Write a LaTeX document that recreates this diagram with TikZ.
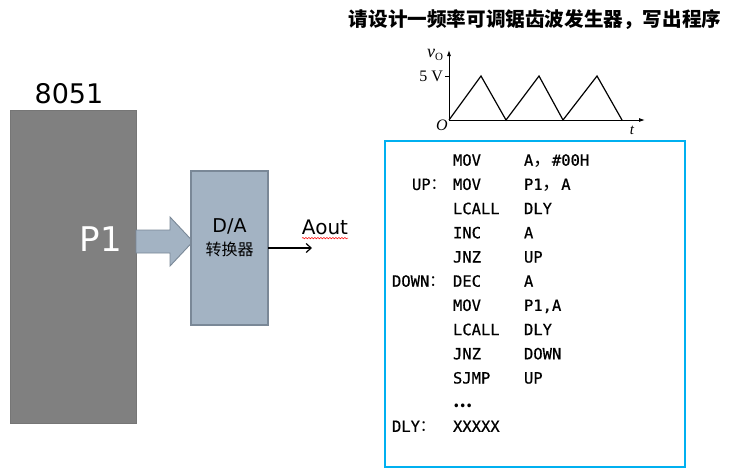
\documentclass[tikz,border=0pt]{standalone}
\usepackage{fontspec}
\setmainfont{Liberation Serif}
\newfontfamily\dv{DejaVu Sans}
\newfontfamily\cjk{Noto Sans CJK SC}
\newfontfamily\monof[FakeBold=0.6]{DejaVu Sans Mono}
\usetikzlibrary{arrows.meta,decorations.pathmorphing}
\definecolor{chipgray}{RGB}{128,128,128}
\definecolor{chipedge}{RGB}{118,118,118}
\definecolor{dafill}{RGB}{163,179,195}
\definecolor{daedge}{RGB}{122,136,151}
\definecolor{codeblue}{RGB}{0,176,240}
\tikzset{
  codetxt/.style={font=\monof\fontsize{15.5}{15.5}\selectfont, anchor=base west},
  axisarrow/.style={-{Latex[length=6pt,width=4pt]}, line width=0.9pt},
}
\begin{document}
\begin{tikzpicture}[x=1pt,y=-1pt, every node/.style={inner sep=0pt, outer sep=0pt}]
\useasboundingbox (0,0) rectangle (734,472);

% title
\node[font=\cjk\bfseries\fontsize{19.6}{19.6}\selectfont] (title) at (535,20) {请设计一频率可调锯齿波发生器，写出程序};

% 8051 chip
\node[draw=chipedge, fill=chipgray, line width=0.8pt, minimum width=126pt, minimum height=313pt, anchor=north west] (chip) at (10,110) {};
\node[font=\dv\fontsize{27}{27}\selectfont, anchor=base] (chiplbl) at (69,103) {8051};
\node[font=\dv\fontsize{34}{34}\selectfont, text=white] (p1) at (101,239) {P1};

% block arrow
\fill[dafill, draw=daedge, line width=0.9pt, line join=miter]
  (136,230) -- (170,230) -- (170,217) -- (193,241.5) -- (170,266) -- (170,253) -- (136,253) -- cycle;

% D/A box
\node[draw=daedge, fill=dafill, line width=1.2pt, minimum width=77pt, minimum height=154pt, anchor=north west] (da) at (191,171) {};
\node[font=\dv\fontsize{19}{19}\selectfont] (datxt) at (229.5,226) {D/A};
\node[font=\cjk\fontsize{16}{16}\selectfont] (dacn) at (229.5,249) {转换器};

% output
\coordinate (aoutend) at (312,248);
\draw[-{Straight Barb[length=5pt,width=9pt]}, line width=1.2pt] (da.east |- aoutend) -- (aoutend);
\node[font=\dv\fontsize{20}{20}\selectfont] (aout) at (325,227) {Aout};
\draw[red, line width=0.5pt, decorate, decoration={snake, amplitude=0.7pt, segment length=3pt}]
  ([yshift=-4pt]aout.base west) -- ([yshift=-4pt]aout.base east);

% waveform
\coordinate (o) at (449,120);
\draw[axisarrow] (o) -- (449,50);
\draw[axisarrow] (o) -- (645,120);
\draw[line width=1.2pt, line join=miter] (o) -- (481,76) -- (506,120) -- (539,76) -- (563,120) -- (597,76) -- (622,120);
\draw[line width=0.9pt] (445,76) -- (449,76);
\node[font=\fontsize{18}{18}\selectfont] (vo) at (435,55) {\textit{v}\raisebox{-3pt}{\fontsize{11}{11}\selectfont O}};
\node[font=\fontsize{16}{16}\selectfont, anchor=east] (fivev) at (443,76.5) {5 V};
\node[font=\itshape\fontsize{16}{16}\selectfont] (olbl) at (442,125) {O};
\node[font=\itshape\fontsize{15}{15}\selectfont] (tlbl) at (632,130) {t};

% code box
\node[draw=codeblue, line width=2.2pt, minimum width=300pt, minimum height=326pt, anchor=north west] (code) at (385,141) {};

\node[codetxt] (m0) at (453,165.7) {MOV};
\node[codetxt] (a0) at (524,165.7) {A{\cjk\fontsize{18.6}{18.6}\selectfont ，}\#00H};

\node[codetxt] (l1) at (412,189.9) {UP{\cjk\fontsize{15.5}{15.5}\selectfont ：}};
\node[codetxt] (m1) at (453,189.9) {MOV};
\node[codetxt] (a1) at (524,189.9) {P1{\cjk\fontsize{18.6}{18.6}\selectfont ，}A};

\node[codetxt] (m2) at (453,214.1) {LCALL};
\node[codetxt] (a2) at (524,214.1) {DLY};

\node[codetxt] (m3) at (453,238.3) {INC};
\node[codetxt] (a3) at (524,238.3) {A};

\node[codetxt] (m4) at (453,262.5) {JNZ};
\node[codetxt] (a4) at (524,262.5) {UP};

\node[codetxt] (l5) at (392,286.7) {DOWN{\cjk\fontsize{15.5}{15.5}\selectfont ：}};
\node[codetxt] (m5) at (453,286.7) {DEC};
\node[codetxt] (a5) at (524,286.7) {A};

\node[codetxt] (m6) at (453,310.9) {MOV};
\node[codetxt] (a6) at (524,310.9) {P1,A};

\node[codetxt] (m7) at (453,335.1) {LCALL};
\node[codetxt] (a7) at (524,335.1) {DLY};

\node[codetxt] (m8) at (453,359.3) {JNZ};
\node[codetxt] (a8) at (524,359.3) {DOWN};

\node[codetxt] (m9) at (453,383.5) {SJMP};
\node[codetxt] (a9) at (524,383.5) {UP};

\node[codetxt] (m10) at (453,407.7) {{\cjk\bfseries\fontsize{17}{17}\selectfont …}};

\node[codetxt] (l11) at (392,431.9) {DLY{\cjk\fontsize{15.5}{15.5}\selectfont ：}};
\node[codetxt] (m11) at (453,431.9) {XXXXX};
\end{tikzpicture}
\end{document}
